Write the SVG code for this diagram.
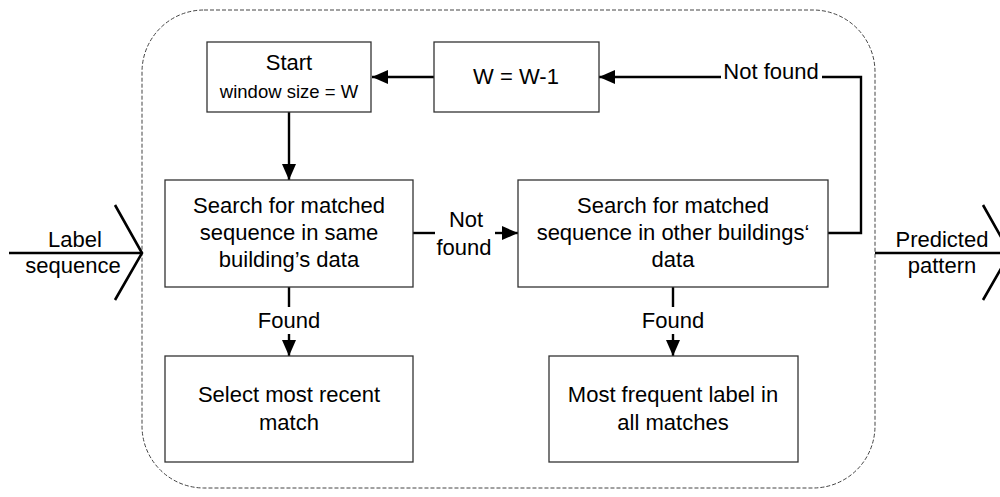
<svg xmlns="http://www.w3.org/2000/svg" width="1000" height="497" viewBox="0 0 1000 497">
<style>
text{font-family:"Liberation Sans",Arial,sans-serif;font-size:22px;fill:#000;text-anchor:middle}
.sm{font-size:18.5px}
.box{fill:#fff;stroke:#333;stroke-width:1.3}
.ln{fill:none;stroke:#000;stroke-width:2.4}
.arr{fill:none;stroke:#000;stroke-width:2.4;marker-end:url(#ah)}
.chev{fill:none;stroke:#000;stroke-width:2.6}
</style>
<defs>
<marker id="ah" markerUnits="userSpaceOnUse" markerWidth="16" markerHeight="14" refX="16" refY="7" orient="auto">
<path d="M0,0 L16,7 L0,14 Z" fill="#000"/>
</marker>
</defs>
<rect id="boundary" x="142" y="10" width="733" height="478" rx="62" ry="62" fill="none" stroke="#444" stroke-width="1" stroke-dasharray="4,2"/>
<g id="connectors">
<path class="arr" d="M289,112 V180"/>
<path class="arr" d="M434,77 H372"/>
<path class="ln" d="M828,233 H861 V77 H822"/>
<path class="arr" d="M721,77 H599"/>
<path class="ln" d="M413,233 H435"/>
<path class="arr" d="M495,233 H518"/>
<path class="ln" d="M289,287 V307"/>
<path class="arr" d="M289,334 V356"/>
<path class="ln" d="M673,287 V307"/>
<path class="arr" d="M673,334 V356"/>
<text x="771" y="79">Not found</text>
<text x="466" y="227">Not</text>
<text x="464" y="255">found</text>
<text x="289" y="328">Found</text>
<text x="673" y="328">Found</text>
</g>
<g id="input">
<path class="chev" d="M9,253 H142"/>
<path class="chev" d="M115,205 L142,253 L115,300"/>
<text x="75" y="247">Label</text>
<text x="73" y="273">sequence</text>
</g>
<g id="output">
<path class="chev" d="M875,253 H1000"/>
<path class="chev" d="M983,205 L1010,253 L983,300"/>
<text x="942" y="247">Predicted</text>
<text x="942" y="273">pattern</text>
</g>
<g id="start">
<rect class="box" x="207" y="42" width="164" height="70"/>
<text x="289" y="70">Start</text>
<text class="sm" x="289" y="98">window size = W</text>
</g>
<g id="decrement">
<rect class="box" x="434" y="42" width="165" height="70"/>
<text x="516" y="84">W = W-1</text>
</g>
<g id="search-same">
<rect class="box" x="165" y="180" width="248" height="107"/>
<text x="289" y="213">Search for matched</text>
<text x="289" y="240">sequence in same</text>
<text x="289" y="267">building’s data</text>
</g>
<g id="search-other">
<rect class="box" x="518" y="180" width="310" height="107"/>
<text x="673" y="213">Search for matched</text>
<text x="673" y="240">sequence in other buildings‘</text>
<text x="673" y="267">data</text>
</g>
<g id="recent">
<rect class="box" x="165" y="356" width="248" height="106"/>
<text x="289" y="402">Select most recent</text>
<text x="289" y="430">match</text>
</g>
<g id="frequent">
<rect class="box" x="549" y="356" width="249" height="106"/>
<text x="673" y="402">Most frequent label in</text>
<text x="673" y="430">all matches</text>
</g>
</svg>
